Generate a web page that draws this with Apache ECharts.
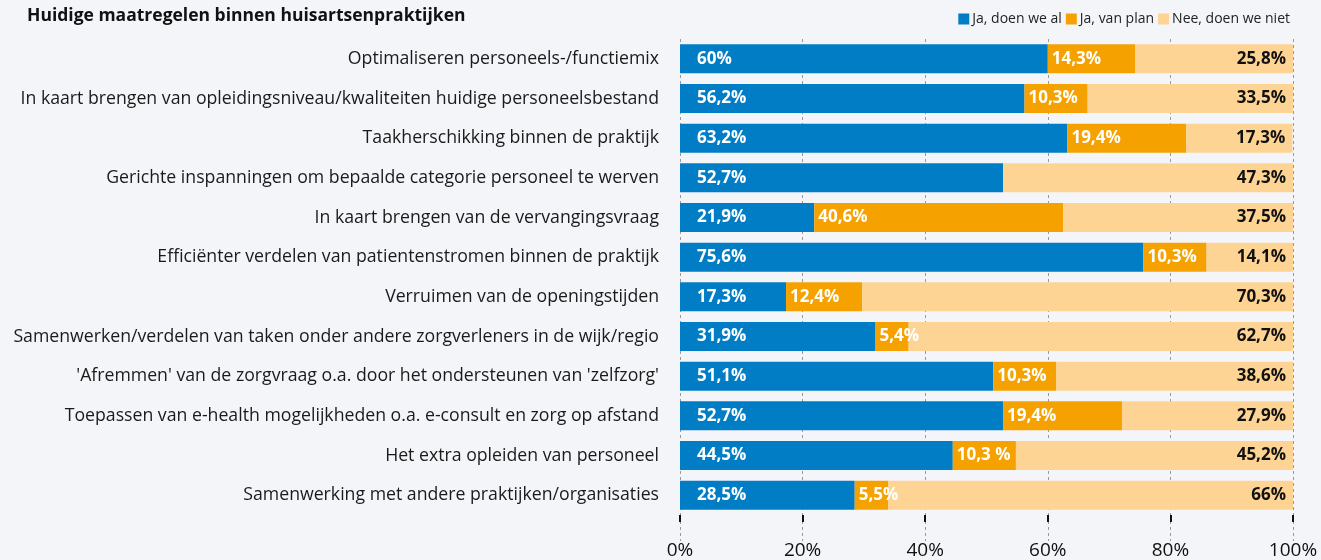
<!DOCTYPE html>
<html>
<head>
<meta charset="utf-8">
<script src="https://cdn.jsdelivr.net/npm/echarts@6/dist/echarts.min.js"></script>
<style>
  html, body { margin: 0; padding: 0; background: #f4f5f9; }
  #chart { width: 1321px; height: 560px; }
</style>
</head>
<body>
<div id="chart"></div>
<script>
var categories = [
  'Optimaliseren personeels-/functiemix',
  'In kaart brengen van opleidingsniveau/kwaliteiten huidige personeelsbestand',
  'Taakherschikking binnen de praktijk',
  'Gerichte inspanningen om bepaalde categorie personeel te werven',
  'In kaart brengen van de vervangingsvraag',
  'Efficiënter verdelen van patientenstromen binnen de praktijk',
  'Verruimen van de openingstijden',
  'Samenwerken/verdelen van taken onder andere zorgverleners in de wijk/regio',
  "'Afremmen' van de zorgvraag o.a. door het ondersteunen van 'zelfzorg'",
  'Toepassen van e-health mogelijkheden o.a. e-consult en zorg op afstand',
  'Het extra opleiden van personeel',
  'Samenwerking met andere praktijken/organisaties'
];
var doenWeAl = [60, 56.2, 63.2, 52.7, 21.9, 75.6, 17.3, 31.9, 51.1, 52.7, 44.5, 28.5];
var vanPlan  = [14.3, 10.3, 19.4, 0, 40.6, 10.3, 12.4, 5.4, 10.3, 19.4, 10.3, 5.5];
var doenNiet = [25.8, 33.5, 17.3, 47.3, 37.5, 14.1, 70.3, 62.7, 38.6, 27.9, 45.2, 66];
var labelsAl   = ['60%', '56,2%', '63,2%', '52,7%', '21,9%', '75,6%', '17,3%', '31,9%', '51,1%', '52,7%', '44,5%', '28,5%'];
var labelsPlan = ['14,3%', '10,3%', '19,4%', '', '40,6%', '10,3%', '12,4%', '5,4%', '10,3%', '19,4%', '10,3 %', '5,5%'];
var labelsNiet = ['25,8%', '33,5%', '17,3%', '47,3%', '37,5%', '14,1%', '70,3%', '62,7%', '38,6%', '27,9%', '45,2%', '66%'];
var xTicks = [0, 20, 40, 60, 80, 100];

var font = '"Open Sans", "Noto Sans", sans-serif';
var myChart = echarts.init(document.getElementById('chart'));

function bar(name, data, labels, color, pos, dist, labelColor) {
  return {
    name: name,
    type: 'bar',
    stack: 'total',
    barWidth: 29,
    data: data,
    itemStyle: { color: color },
    label: {
      show: true,
      position: pos,
      distance: dist,
      color: labelColor,
      fontFamily: font,
      fontWeight: 'bold',
      fontSize: 17,
      formatter: function (p) { return labels[p.dataIndex]; }
    }
  };
}

var option = {
  backgroundColor: '#f4f5f9',
  animation: false,
  title: {
    text: 'Huidige maatregelen binnen huisartsenpraktijken',
    left: 22,
    top: 2,
    textStyle: { fontFamily: font, fontSize: 17.5, fontWeight: 'bold', color: '#111' }
  },
  legend: {
    right: 26,
    top: 7,
    itemWidth: 11,
    itemHeight: 11,
    itemGap: 4,
    icon: 'rect',
    textStyle: { fontFamily: font, fontSize: 14, color: '#222', padding: [0, 0, 0, -2] },
    data: ['Ja, doen we al', 'Ja, van plan', 'Nee, doen we niet']
  },
  grid: { left: 680, right: 28, top: 39, bottom: 45 },
  xAxis: [
    {
      type: 'value',
      min: 0,
      max: 100,
      interval: 20,
      position: 'bottom',
      axisLine: { show: false },
      axisTick: { show: true, length: 26, lineStyle: { color: '#999', type: [3, 3], width: 1 } },
      splitLine: { show: true, lineStyle: { color: '#999', type: [3, 3], width: 1 } },
      axisLabel: {
        margin: 26,
        fontFamily: font,
        fontSize: 19,
        color: '#111',
        formatter: function (v) { return xTicks.indexOf(v) >= 0 ? v + '%' : ''; }
      }
    },
    {
      type: 'value',
      min: 0,
      max: 100,
      interval: 20,
      position: 'bottom',
      axisLine: { show: false },
      axisTick: { show: true, length: 7, lineStyle: { color: '#111', width: 2 } },
      splitLine: { show: false },
      axisLabel: { show: false }
    }
  ],
  yAxis: {
    type: 'category',
    inverse: true,
    data: categories,
    axisLine: { show: false },
    axisTick: { show: false },
    axisLabel: { margin: 21, fontFamily: font, fontSize: 17.7, color: '#1a1a1a' }
  },
  series: [
    bar('Ja, doen we al', doenWeAl, labelsAl, '#007dc5', 'insideLeft', 17, '#fff'),
    bar('Ja, van plan', vanPlan, labelsPlan, '#f5a200', 'insideLeft', 4, '#fff'),
    bar('Nee, doen we niet', doenNiet, labelsNiet, '#fdd493', 'insideRight', 7, '#111')
  ]
};
myChart.setOption(option);
</script>
</body>
</html>
